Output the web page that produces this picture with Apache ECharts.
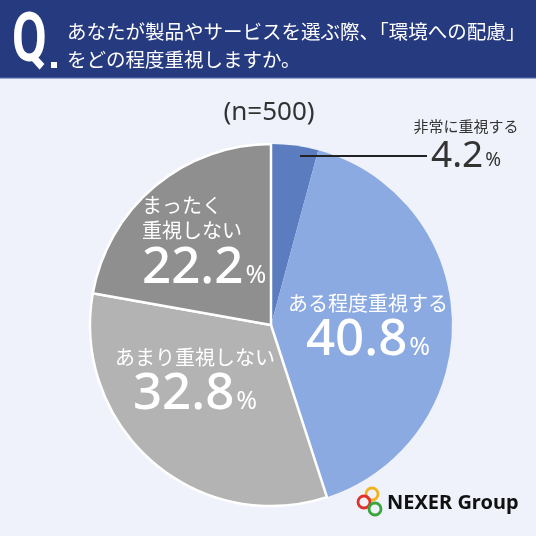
<!DOCTYPE html>
<html>
<head>
<meta charset="utf-8">
<script src="https://cdn.jsdelivr.net/npm/echarts@6/dist/echarts.min.js"></script>
<style>
html,body{margin:0;padding:0;background:#eff2fb;}
#c{width:536px;height:536px;}
</style>
</head>
<body>
<div id="c"></div>
<script>
const questionLine1 = 'あなたが製品やサービスを選ぶ際、「環境への配慮」';
const questionLine2 = 'をどの程度重視しますか。';
const sampleNote = '(n=500)';
const categories = ['非常に重視する', 'ある程度重視する', 'あまり重視しない', 'まったく重視しない'];
const values = [4.2, 40.8, 32.8, 22.2];
const sliceColors = ['#5b7dbf', '#8caae2', '#b3b3b3', '#8f8f8f'];
const brand = 'NEXER Group';

const FONT = '"Noto Sans CJK JP", "Noto Sans", sans-serif';
const NUMFONT = '"Noto Sans", "Noto Sans CJK JP", sans-serif';
const chart = echarts.init(document.getElementById('c'), null, {renderer: 'canvas'});

// label block positions (layout only)
const labelPos = [
  {x: 466, y: 144, align: 'center'},
  {x: 368, y: 328, align: 'center'},
  {x: 195, y: 382, align: 'center'},
  {x: 142, y: 243, align: 'left'}
];

function fmt(p) {
  const v = p.value.toFixed(1);
  if (p.dataIndex === 0) {
    return '{small|' + p.name + '}\n{v0|' + v + '}{p0|%}';
  }
  let name = p.name;
  if (p.dataIndex === 3) name = name.slice(0, 4) + '}\n{nm|' + name.slice(4);
  return '{nm|' + name + '}\n{val|' + v + '}{pct|%}';
}

const data = categories.map((c, i) => ({
  name: c, value: values[i],
  itemStyle: {color: sliceColors[i], borderColor: '#ffffff', borderWidth: i >= 2 ? 2.5 : 0},
  label: i === 0 ? {position: 'outside', overflow: 'none', alignTo: 'none'} : {position: 'inside'},
  labelLine: {show: false}
}));

chart.setOption({
  backgroundColor: '#eff2fb',
  animation: false,
  graphic: [
    {type: 'rect', shape: {x: 0, y: 0, width: 536, height: 78}, style: {fill: '#263a7f'}},
    {type: 'rect', shape: {x: 0, y: 77, width: 536, height: 1.5}, style: {fill: '#42569a'}},
    {type: 'text', x: 12, y: 10, scaleX: 0.74, style: {text: 'Q', fill: '#fff', font: 'bold 68px Roboto, "Noto Sans", sans-serif'}},
    {type: 'rect', shape: {x: 51, y: 62, width: 6, height: 6}, style: {fill: '#fff'}},
    {type: 'text', x: 67, y: 32, style: {text: questionLine1, fill: '#fff', font: '19.5px ' + FONT, verticalAlign: 'middle'}},
    {type: 'text', x: 67, y: 60, style: {text: questionLine2, fill: '#fff', font: '19.5px ' + FONT, verticalAlign: 'middle'}},
    {type: 'text', x: 269, y: 113, style: {text: sampleNote, fill: '#333', font: '26px ' + NUMFONT, align: 'center', verticalAlign: 'middle'}},
    {type: 'line', z: 100, shape: {x1: 300, y1: 156, x2: 427, y2: 156}, style: {stroke: '#222', lineWidth: 2}},
    {type: 'circle', shape: {cx: 372, cy: 494, r: 6}, style: {fill: 'none', stroke: '#f2b21c', lineWidth: 2.8}},
    {type: 'circle', shape: {cx: 364, cy: 502, r: 6}, style: {fill: 'none', stroke: '#e0302b', lineWidth: 2.8}},
    {type: 'circle', shape: {cx: 375, cy: 509, r: 6}, style: {fill: 'none', stroke: '#3aa53a', lineWidth: 2.8}},
    {type: 'text', x: 387, y: 503, style: {text: brand, fill: '#111', font: 'bold 20px "Noto Sans", sans-serif', verticalAlign: 'middle'}}
  ],
  series: [{
    type: 'pie',
    center: [271, 325],
    radius: [0, 181],
    startAngle: 90,
    clockwise: true,
    data: data,
    label: {
      show: true,
      formatter: fmt,
      color: '#fff',
      fontFamily: FONT,
      lineHeight: 26,
      rich: {
        nm: {fontSize: 20, color: '#fff', fontFamily: FONT, lineHeight: 25},
        val: {fontSize: 51, color: '#fff', fontFamily: NUMFONT, fontWeight: 500, lineHeight: 50},
        pct: {fontSize: 25, color: '#fff', fontFamily: NUMFONT, lineHeight: 50, verticalAlign: 'bottom', padding: [0, 0, 5, 2]},
        small: {fontSize: 15, color: '#333', fontFamily: FONT, lineHeight: 24, align: 'center'},
        v0: {fontSize: 37, color: '#333', fontFamily: NUMFONT, lineHeight: 36},
        p0: {fontSize: 19, color: '#333', fontFamily: NUMFONT, lineHeight: 36, verticalAlign: 'bottom', padding: [0, 0, 4, 2]}
      }
    },
    labelLayout: function (p) {
      const pos = labelPos[p.dataIndex];
      return {x: pos.x, y: pos.y, align: pos.align, verticalAlign: 'middle'};
    },
    emphasis: {disabled: true}
  }]
});
</script>
</body>
</html>
